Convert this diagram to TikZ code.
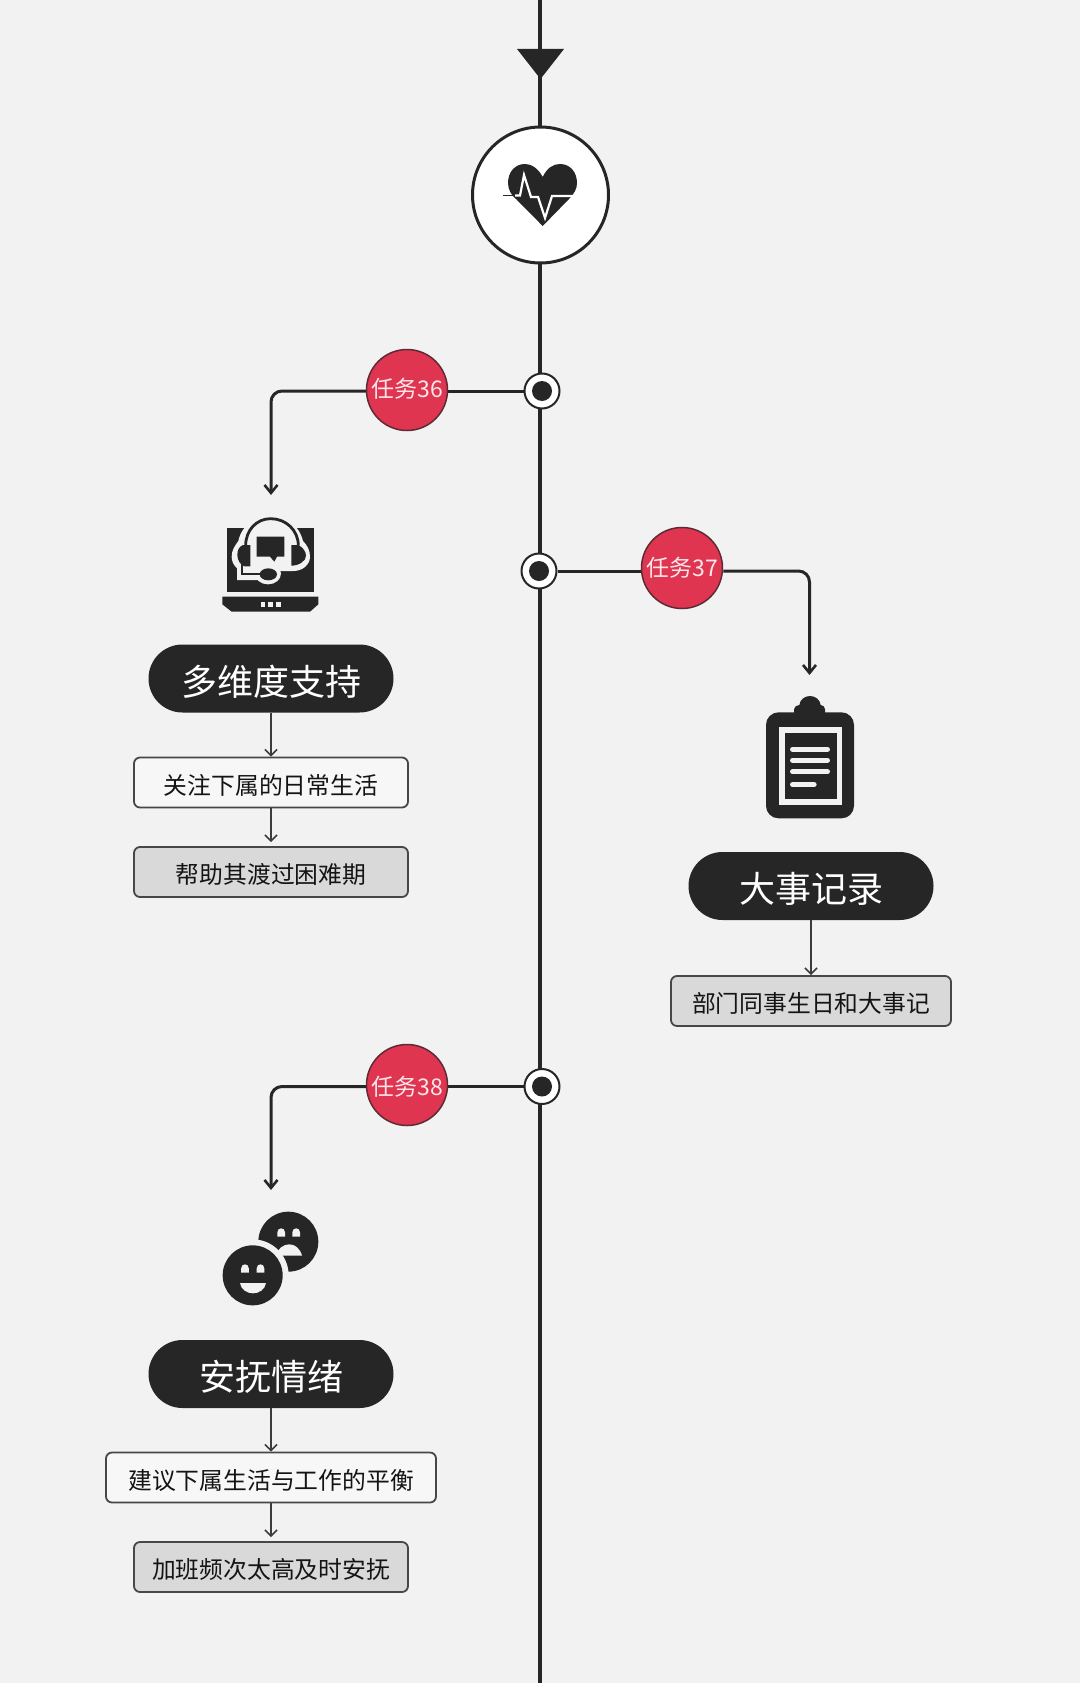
\documentclass[tikz,border=0pt]{standalone}
\usepackage{fontspec}
\setmainfont{Noto Sans CJK SC}
\usetikzlibrary{arrows.meta}
\definecolor{bgc}{HTML}{F2F2F2}
\definecolor{ink}{HTML}{262626}
\definecolor{redc}{HTML}{DF3550}
\definecolor{grayc}{HTML}{D9D9D9}
\definecolor{whitec}{HTML}{F7F7F7}
\definecolor{redtxt}{HTML}{FBE6E9}
\definecolor{boxtxt}{HTML}{141414}
\newcommand{\faceeye}[2]{\fill[bgc] (#1-11.5,#2+13) -- (#1-11.5,#2) .. controls (#1-11.5,#2-16) and (#1+11.5,#2-16) .. (#1+11.5,#2) -- (#1+11.5,#2+13) -- cycle;}
\tikzset{
  axis/.style={draw=ink,line width=3.8pt},
  hub/.style={circle,draw=ink,fill=white,line width=2pt,minimum size=35pt,inner sep=0pt},
  hubdot/.style={circle,fill=ink,minimum size=20pt,inner sep=0pt},
  task/.style={circle,draw=ink!70!redc,fill=redc,line width=1.5pt,minimum size=81pt,inner sep=0pt,text=redtxt,text depth=0pt,font=\fontsize{23}{24}\selectfont},
  branch/.style={draw=ink,line width=3pt,rounded corners=11pt},
  brancharrow/.style={branch,-{Straight Barb[length=8pt,width=13pt,line width=2.6pt]}},
  pill/.style={rounded corners=34pt,fill=ink,text=white,minimum width=245pt,minimum height=68pt,inner sep=0pt,text height=33.4pt,text depth=0pt,font=\fontsize{36}{38}\selectfont},
  boxw/.style={draw=ink!85,line width=1.8pt,rounded corners=6pt,fill=whitec,text=boxtxt,minimum height=50pt,inner sep=0pt,text height=23.2pt,text depth=0pt,font=\fontsize{23.8}{26}\selectfont},
  boxg/.style={boxw,fill=grayc},
  thin/.style={draw=ink!90,line width=1.8pt,-{Straight Barb[length=6pt,width=12pt,line width=1.6pt]}},
  icon/.style={fill=ink,draw=none},
}
\begin{document}
\begin{tikzpicture}[x=1pt,y=-1pt]
\useasboundingbox (0,0) rectangle (1080,1683);
\fill[bgc] (0,0) rectangle (1080,1683);
% main axis
\coordinate (top) at (540,0);
\coordinate (bot) at (540,1683);
\draw[axis] (top) -- (bot);
\fill[ink] (517,49) -- (564,49) -- (540.5,79) -- cycle;
% heart badge
\node[circle,draw=ink,fill=white,line width=3pt,minimum size=136pt,inner sep=0pt] (badge) at (540.5,195) {};
\fill[ink] (542.7,177) .. controls (538,168) and (531,164) .. (525,164)
  .. controls (515,164) and (508,172) .. (508,183)
  .. controls (508,190) and (512,196) .. (516,199)
  -- (542.7,226) -- (569,199)
  .. controls (574,194) and (577,189) .. (577,183)
  .. controls (577,172) and (570,164) .. (560,164)
  .. controls (553,164) and (547,168) .. (542.7,177) -- cycle;
\draw[white,line width=2.2pt] (515,195.5) -- (520,195.5) -- (524,175) -- (531,197) -- (538,197) -- (545,218) -- (552,196) -- (574,196);
\draw[ink,line width=1.8pt] (503,195.5) -- (515,195.5);
% hubs
\node[hub] (j1) at (542,391) {};
\node[hubdot] at (j1) {};
\node[hub] (j2) at (539,571) {};
\node[hubdot] at (j2) {};
\node[hub] (j3) at (542,1086.5) {};
\node[hubdot] at (j3) {};
% task circles
\node[task,text height=15pt] (t36) at (407,390) {任务36};
\node[task,text height=17.5pt] (t37) at (682,568) {任务37};
\node[task,text height=20pt] (t38) at (407,1085) {任务38};
\coordinate (tip36) at (271,495);
\coordinate (tip37) at (809.5,675);
\coordinate (tip38) at (271,1190);
\draw[branch] (j1.west) -- (t36.east |- j1);
\draw[brancharrow] (t36.west |- j1) -| (tip36);
\draw[branch] (j2.east) -- (t37.west |- j2);
\draw[brancharrow] (t37.east |- j2) -| (tip37);
\draw[branch] (j3.west) -- (t38.east |- j3);
\draw[brancharrow] (t38.west |- j3) -| (tip38);
% pills and boxes
\node[pill] (p1) at (271,678.5) {多维度支持};
\node[boxw,minimum width=274pt] (b1) at (271,782.5) {关注下属的日常生活};
\node[boxg,minimum width=274pt] (b2) at (271,872) {帮助其渡过困难期};
\draw[thin] (p1.south) -- (b1.north);
\draw[thin] (b1.south) -- ([yshift=4pt]b2.north);
\node[pill] (p2) at (811,886) {大事记录};
\node[boxg,minimum width=280pt] (b3) at (811,1001) {部门同事生日和大事记};
\draw[thin] (p2.south) -- (b3.north);
\node[pill] (p3) at (271,1374) {安抚情绪};
\node[boxw,minimum width=330pt] (b4) at (271,1477.5) {建议下属生活与工作的平衡};
\node[boxg,minimum width=274pt] (b5) at (271,1567) {加班频次太高及时安抚};
\draw[thin] (p3.south) -- (b4.north);
\draw[thin] (b4.south) -- ([yshift=4pt]b5.north);
% laptop icon
\begin{scope}[shift={(215,505)},scale=1/3]
  \fill[icon] (35,70) rectangle (298,262);
  \fill[icon] (22,275) -- (310,275) -- (310,298) -- (285,320) -- (50,320) -- (22,298) -- cycle;
  \fill[bgc] (137,292) rectangle (150,305);
  \fill[bgc] (160,292) rectangle (173,305);
  \fill[bgc] (184,292) rectangle (197,305);
  % head-shaped light area with its halo
  \fill[bgc] (50,155) .. controls (50,135) and (60,122) .. (70,108)
    .. controls (80,60) and (125,28) .. (167,28)
    .. controls (210,28) and (252,60) .. (264,108)
    .. controls (276,120) and (285,135) .. (285,155)
    .. controls (285,180) and (262,198) .. (235,198)
    -- (190,198) -- (190,225) -- (120,225) -- (66,225) -- (66,190)
    .. controls (56,180) and (50,170) .. (50,155) -- cycle;
  \fill[bgc] (159,206) ellipse [x radius=39,y radius=32];
  % headset
  \draw[ink,line width=2.8pt] (92,122) .. controls (92,75) and (125,41) .. (167,41) .. controls (212,41) and (250,75) .. (250,122);
  \fill[icon] (106,120) -- (84,120) .. controls (72,125) and (67,135) .. (67,150) .. controls (67,165) and (76,180) .. (88,184) -- (106,184) -- cycle;
  \fill[icon] (229,120) -- (250,120) .. controls (264,127) and (273,140) .. (273,152) .. controls (273,168) and (252,182) .. (229,182) -- cycle;
  \fill[icon] (125,95) -- (208,95) -- (208,155) -- (186,155) -- (178,170) -- (165,155) -- (125,155) -- cycle;
  \draw[ink,line width=2pt] (82,178) -- (82,208) -- (135,208);
  \fill[icon] (160,208) ellipse [x radius=26,y radius=18];
\end{scope}
% clipboard icon
\begin{scope}[shift={(730,680)},scale=1/3]
  \fill[icon,rounded corners=12.5pt] (108,97) rectangle (372,415);
  \fill[icon] (192,105) -- (192,88) .. controls (192,80) and (200,76) .. (208,75)
    .. controls (210,58) and (225,48) .. (240,48) .. controls (255,48) and (270,58) .. (272,75)
    .. controls (280,76) and (285,80) .. (285,88) -- (285,105) -- cycle;
  \fill[bgc] (146,140) rectangle (336,376);
  \fill[icon] (164,158) rectangle (320,358);
  \draw[bgc,line width=5.3pt,line cap=round] (188,208) -- (292,208);
  \draw[bgc,line width=5.3pt,line cap=round] (188,241) -- (292,241);
  \draw[bgc,line width=5.3pt,line cap=round] (188,275) -- (292,275);
  \draw[bgc,line width=5.3pt,line cap=round] (188,314) -- (252,314);
\end{scope}
% faces icon
\begin{scope}[shift={(200,1190)},scale=1/3]
  \fill[icon] (265,155) circle [radius=90];
  \faceeye{243.5}{127}
  \faceeye{288.5}{127}
  \fill[bgc] (225,197) -- (306,197) .. controls (300,175) and (285,163) .. (268,163) .. controls (250,163) and (235,175) .. (225,197) -- cycle;
  \fill[bgc] (158,256) circle [radius=108];
  \fill[icon] (158,256) circle [radius=90];
  \faceeye{135}{235}
  \faceeye{181.5}{235}
  \fill[bgc] (120,279) -- (198,279) .. controls (195,298) and (178,310) .. (159,310) .. controls (140,310) and (123,298) .. (120,279) -- cycle;
\end{scope}
\end{tikzpicture}
\end{document}
